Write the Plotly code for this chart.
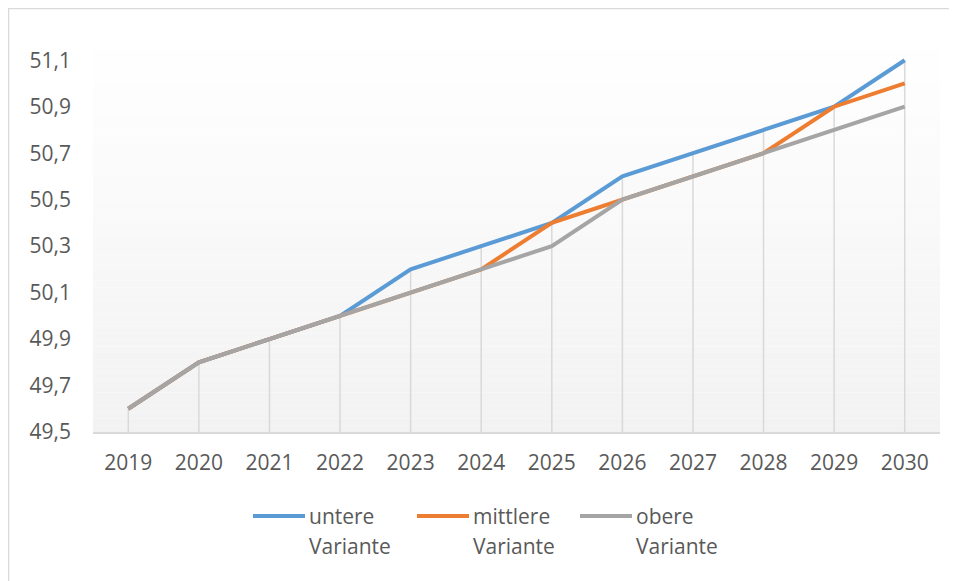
import plotly.graph_objects as go

years = ["2019", "2020", "2021", "2022", "2023", "2024", "2025", "2026", "2027", "2028", "2029", "2030"]
untere = [49.6, 49.8, 49.9, 50.0, 50.2, 50.3, 50.4, 50.6, 50.7, 50.8, 50.9, 51.1]
mittlere = [49.6, 49.8, 49.9, 50.0, 50.1, 50.2, 50.4, 50.5, 50.6, 50.7, 50.9, 51.0]
obere = [49.6, 49.8, 49.9, 50.0, 50.1, 50.2, 50.3, 50.5, 50.6, 50.7, 50.8, 50.9]
legend_top = ["untere", "mittlere", "obere"]
legend_bottom = ["Variante", "Variante", "Variante"]
colors = ["#5B9BD5", "#ED7D31", "#A5A5A5"]
y_min, y_max = 49.5, 51.2
y_ticks = [49.5, 49.7, 49.9, 50.1, 50.3, 50.5, 50.7, 50.9, 51.1]

# page is shown with an 8px body offset
OFF = 8
W, H = 957 - OFF, 581 - OFF
L, T = 93 - OFF, 37 - OFF
R = W - (940 - OFF)
B = H - (432 - OFF)
pw, ph = W - L - R, H - T - B
FS = 21


def px(xp):  # page x pixel -> paper
    return (xp - OFF - L) / pw


def py(yp):  # page y pixel -> paper
    return (H - B - (yp - OFF)) / ph


fig = go.Figure()

# drop lines from highest point to axis
dx, dy = [], []
for i, yr in enumerate(years):
    top = max(untere[i], mittlere[i], obere[i])
    dx += [yr, yr, None]
    dy += [y_min, top, None]
fig.add_trace(go.Scatter(x=dx, y=dy, mode="lines", line=dict(color="#d9d9d9", width=1.5),
                         showlegend=False, hoverinfo="skip"))

for name, vals, c in zip(legend_top, [untere, mittlere, obere], colors):
    fig.add_trace(go.Scatter(x=years, y=vals, mode="lines", name=name, showlegend=False,
                             line=dict(color=c, width=4)))

# gradient background
shapes = []
n = 60
for k in range(n):
    t = (k + 0.5) / n
    v = round(255 - (255 - 242) * t)
    shapes.append(dict(type="rect", xref="paper", yref="paper", x0=0, x1=1,
                       y0=1 - (k + 1) / n, y1=1 - k / n, layer="below",
                       line=dict(width=0), fillcolor=f"rgb({v},{v},{v})"))
# chart border
shapes.append(dict(type="rect", xref="paper", yref="paper",
                   x0=px(8.5), x1=px(960), y0=py(590), y1=py(8.5),
                   line=dict(color="#d9d9d9", width=1.5), fillcolor="rgba(0,0,0,0)", layer="below"))

# custom legend
annotations = []
leg_x = [253, 417, 580]
leg_len = 52
leg_y = 516
for i in range(3):
    shapes.append(dict(type="line", xref="paper", yref="paper",
                       x0=px(leg_x[i]), x1=px(leg_x[i] + leg_len), y0=py(leg_y), y1=py(leg_y),
                       line=dict(color=colors[i], width=4)))
    annotations.append(dict(xref="paper", yref="paper", x=px(leg_x[i] + leg_len + 2), y=py(leg_y),
                            text=legend_top[i], showarrow=False, xanchor="left", yanchor="middle",
                            font=dict(size=FS, color="#595959")))
    annotations.append(dict(xref="paper", yref="paper", x=px(leg_x[i] + leg_len + 2), y=py(leg_y + 30),
                            text=legend_bottom[i], showarrow=False, xanchor="left", yanchor="middle",
                            font=dict(size=FS, color="#595959")))

fig.update_layout(
    width=W, height=H,
    margin=dict(l=L, r=R, t=T, b=B),
    paper_bgcolor="white", plot_bgcolor="white",
    separators=", ",
    font=dict(family="Open Sans", size=FS, color="#595959"),
    shapes=shapes,
    annotations=annotations,
    showlegend=False,
)
fig.update_xaxes(type="category", range=[-0.5, len(years) - 0.5], showgrid=False,
                 showline=True, linecolor="#d9d9d9", linewidth=1.5, ticks="",
                 ticklabelstandoff=11, zeroline=False)
fig.update_yaxes(range=[y_min, y_max], tickvals=y_ticks, tickformat=".1f", showgrid=False,
                 showline=False, zeroline=False, ticks="", ticklabelstandoff=21)

fig.write_html("out.html")
